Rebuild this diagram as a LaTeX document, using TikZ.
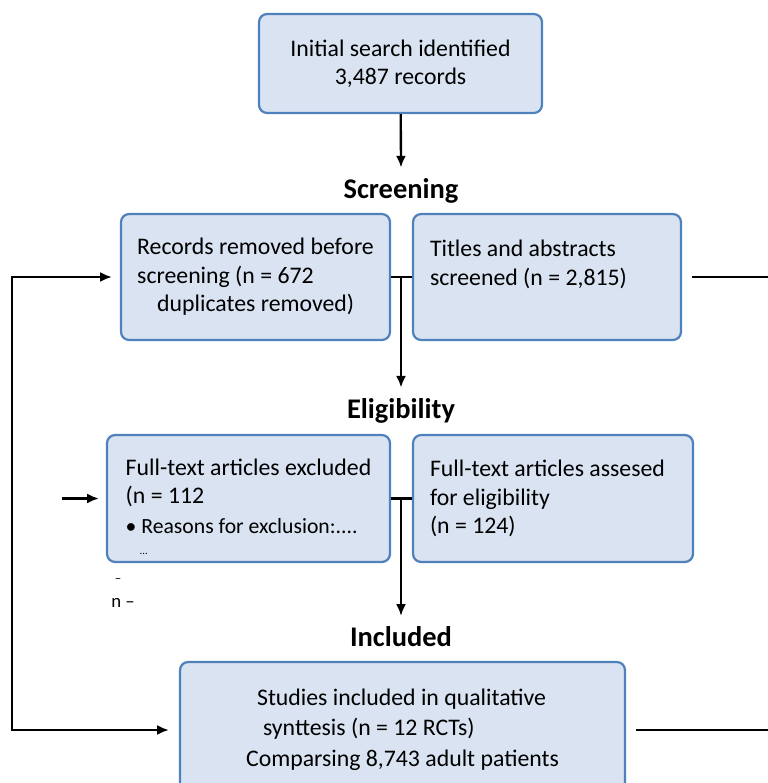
\documentclass[tikz,border=0pt]{standalone}
\usepackage{fontspec}
\setmainfont{Carlito}
\usetikzlibrary{arrows.meta,positioning}

\definecolor{boxfill}{HTML}{DAE3F1}
\definecolor{boxdraw}{HTML}{4F81BD}

\tikzset{
  box/.style={draw=boxdraw,fill=boxfill,line width=1.9pt,rounded corners=7pt,
    align=left,font=\fontsize{20.3}{24.3}\selectfont},
  head/.style={font=\fontsize{24.3}{26}\selectfont\bfseries,inner sep=0pt,outer sep=0.33cm},
  note/.style={font=\fontsize{16}{18}\selectfont,inner sep=0pt}
}

\begin{document}
\begin{tikzpicture}[x=0.03cm,y=-0.03cm,line width=2pt,>={Latex[length=10pt,width=8.5pt]}]
  \useasboundingbox (0,0) rectangle (768,783);

  % boxes
  \node[box,align=center,minimum width=8.49cm,minimum height=2.97cm] (search) at (400.5,63.5)
    {Initial search identified\\3,487 records};
  \node[head] (screening) at (401,191) {Screening};

  \node[box,minimum width=8.07cm,minimum height=3.78cm] (removed) at (255.5,277)
    {Records removed before\\screening (n = 672\\\hspace*{0.6cm}duplicates removed)};
  \node[box,align=flush left,text width=7.02cm,inner xsep=0.51cm,minimum height=3.78cm] (titles) at (547,277)
    {Titles and abstracts\\screened (n = 2,815)\\\mbox{}};

  \node[head] (eligibility) at (401,411) {Eligibility};

  \node[box,minimum width=8.49cm,minimum height=3.81cm] (excluded) at (248.5,498.5)
    {\rule{0pt}{28pt}Full-text articles excluded\\(n = 112\\[1pt]{\fontsize{18.5}{22}\selectfont\textbullet\ Reasons for exclusion:....}\\[-6pt]
     \hspace*{0.42cm}{\fontsize{9}{9}\selectfont ...}};
  \node[box,align=flush left,text width=7.38cm,inner xsep=0.51cm,minimum height=3.81cm] (assessed) at (553,498.5)
    {Full-text articles assesed\\for eligibility\\(n = 124)};

  \node[note] (dash) at (118,580) {\fontsize{11}{11}\selectfont –};
  \node[note] (nnote) at (123,603) {n –};

  \node[head] (included) at (401,637) {Included};

  \node[box,minimum width=13.35cm,minimum height=4.08cm] (studies) at (402.5,730)
    {\hspace*{0.33cm}Studies included in qualitative\\[1pt]
     \hspace*{0.51cm}synttesis (n = 12 RCTs)\\[2pt]
     Comparsing 8,743 adult patients};

  % loose ends
  \coordinate (titlesout) at (768,277);
  \coordinate (studiesout) at (768,730);
  \coordinate (loopbottom) at (12,730);
  \coordinate (excludedin) at (62,498.5);

  % connectors
  \draw[->] (search) -- (screening.north);
  \draw (removed.east) -- (titles.west);
  \draw[->] (screening |- removed.east) -- (eligibility.north);
  \draw[shorten <=0.3cm] (titles.east) -- (titlesout);

  \draw (excluded.east) -- (assessed.west);
  \draw[->] (eligibility |- excluded.east) -- (included.north);
  \draw[->,shorten >=0.21cm] (excludedin) -- (excluded.west);

  \draw[<->,shorten <=0.24cm,shorten >=0.3cm] (removed.west) -| (loopbottom) -- (studies.west);
  \draw[shorten <=0.3cm] (studies.east) -- (studiesout);
\end{tikzpicture}
\end{document}
